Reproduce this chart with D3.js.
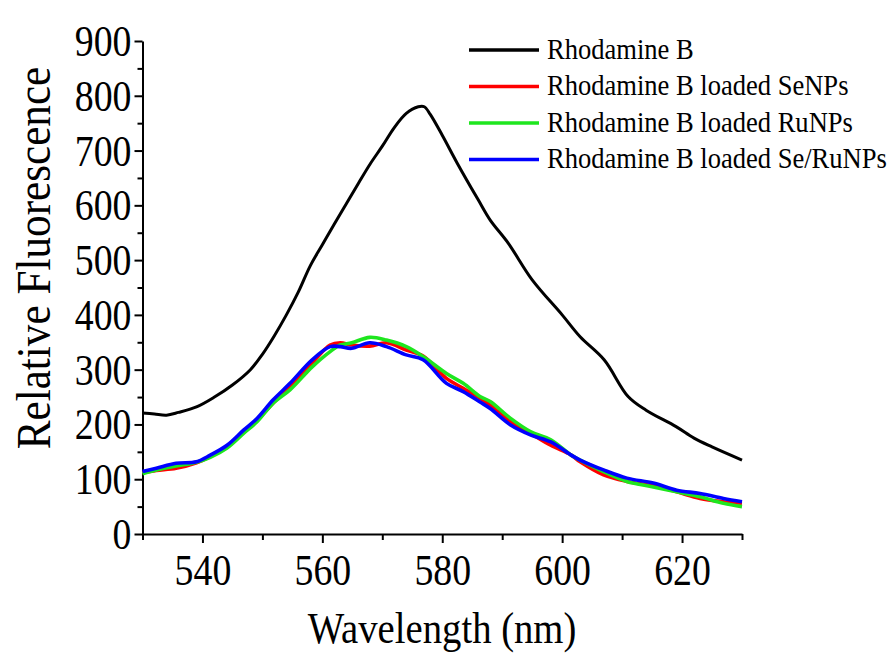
<!DOCTYPE html>
<html>
<head>
<meta charset="utf-8">
<script src="https://cdn.jsdelivr.net/npm/d3@7"></script>
<style>
  body { margin: 0; background: #fff; }
</style>
</head>
<body>
<div id="chart"></div>
<script>
// Rhodamine B (black)
var wlBlack = [530, 532, 534, 536, 539, 542, 545, 548, 550, 552, 554, 556, 558, 560, 562, 564, 566, 568, 570, 572, 574, 576, 577, 578, 580, 582.5, 586, 588, 591, 595, 600, 603, 607, 611, 614, 619, 622, 625, 630];
var rhodB = [221, 219, 217, 222, 232, 250, 272, 300, 328, 362, 400, 442, 490, 528, 566, 603, 640, 676, 708, 742, 768, 780, 780, 766, 728, 677, 610, 573, 531, 464, 400, 360, 318, 251, 226, 196, 175, 159, 135];

// nanoparticle series share one wavelength grid
var wlNP = [530, 532.3, 535.6, 539, 541.3, 544.1, 546.9, 549.1, 551.8, 554.6, 558.3, 561.3, 563, 564.9, 567.9, 570.7, 574, 576.8, 580.7, 583.5, 586.3, 588, 591.4, 594.7, 598.1, 601.5, 603, 606.9, 610.8, 615.2, 619.1, 623, 626.9, 630];
var seNP = [112, 116, 120, 130, 142, 160, 186, 208, 239, 270, 312, 345, 349, 345, 343, 349, 336, 325, 284, 266, 248, 235, 205, 184, 162, 144, 132, 108, 96, 88, 77, 65, 59, 56];
var ruNP = [110, 117, 124, 131, 140, 157, 184, 205, 239, 263, 305, 333, 345, 349, 359, 354, 342, 324, 293, 275, 251, 242, 211, 187, 172, 144, 135, 114, 96, 86, 77, 68, 56, 50];
var seRuNP = [114, 120, 129, 132, 144, 162, 190, 211, 245, 275, 318, 342, 342, 339, 349, 342, 327, 318, 275, 260, 241, 229, 199, 181, 168, 144, 135, 117, 102, 93, 80, 74, 65, 59];

var seriesNames = ["Rhodamine B", "Rhodamine B loaded SeNPs", "Rhodamine B loaded RuNPs", "Rhodamine B loaded Se/RuNPs"];
var seriesColors = ["#000000", "#ff0000", "#1ee61e", "#0000ff"];

var xMajor = [540, 560, 580, 600, 620];
var xMinor = [530, 550, 570, 590, 610, 630];
var yMajor = [0, 100, 200, 300, 400, 500, 600, 700, 800, 900];
var yMinor = [50, 150, 250, 350, 450, 550, 650, 750, 850];

var series = [
  {name: seriesNames[0], color: seriesColors[0], x: wlBlack, y: rhodB, w: 3},
  {name: seriesNames[1], color: seriesColors[1], x: wlNP, y: seNP, w: 3.6},
  {name: seriesNames[2], color: seriesColors[2], x: wlNP, y: ruNP, w: 3.6},
  {name: seriesNames[3], color: seriesColors[3], x: wlNP, y: seRuNP, w: 3.6}
];

var width = 893, height = 661;
var margin = {top: 41, right: 151, bottom: 127, left: 142.5};
var serif = "'Liberation Serif'";
var sx = 0.86; // horizontal squeeze, original font is narrower

var svg = d3.select("#chart").append("svg")
    .attr("width", width)
    .attr("height", height)
    .attr("font-family", serif);

var xScale = d3.scaleLinear().domain([530, 630]).range([margin.left, width - margin.right]);
var yScale = d3.scaleLinear().domain([0, 900]).range([height - margin.bottom, margin.top]);

// minor ticks first
svg.append("g")
    .attr("transform", "translate(0," + yScale(0) + ")")
    .call(d3.axisBottom(xScale).tickValues(xMinor).tickSize(6).tickFormat(""))
    .call(g => g.select(".domain").remove());
svg.append("g")
    .attr("transform", "translate(" + xScale(530) + ",0)")
    .call(d3.axisLeft(yScale).tickValues(yMinor).tickSize(5).tickFormat(""))
    .call(g => g.select(".domain").remove());

// x axis
var xAxis = svg.append("g")
    .attr("transform", "translate(0," + yScale(0) + ")")
    .call(d3.axisBottom(xScale).tickValues(xMajor).tickSize(9).tickSizeOuter(0).tickPadding(11).tickFormat(d3.format("d")))
    .attr("font-family", serif)
    .attr("font-size", 44);
xAxis.selectAll("text")
    .attr("dy", "0.71em")
    .attr("transform", "scale(" + sx + ",1)");

// y axis
var yAxis = svg.append("g")
    .attr("transform", "translate(" + xScale(530) + ",0)")
    .call(d3.axisLeft(yScale).tickValues(yMajor).tickSize(8).tickSizeOuter(0).tickPadding(3).tickFormat(d3.format("d")))
    .attr("font-family", serif)
    .attr("font-size", 44);
yAxis.selectAll("text")
    .attr("dy", "0.33em")
    .attr("x", -11 / sx)
    .attr("transform", "scale(" + sx + ",1)");

svg.selectAll(".domain").attr("stroke-width", 2);
svg.selectAll(".tick line").attr("stroke-width", 2);

// curves
var line = d3.line()
    .x(d => xScale(d[0]))
    .y(d => yScale(d[1]))
    .curve(d3.curveCatmullRom.alpha(0.5));

svg.append("g").selectAll("path")
    .data(series)
  .enter().append("path")
    .attr("fill", "none")
    .attr("stroke", d => d.color)
    .attr("stroke-width", d => d.w)
    .attr("stroke-linejoin", "round")
    .attr("d", d => line(d.x.map((v, i) => [v, d.y[i]])));

// axis titles
svg.append("text")
    .attr("transform", "translate(442,643) scale(" + sx + ",1)")
    .attr("text-anchor", "middle")
    .attr("font-family", serif)
    .attr("font-size", 45)
    .text("Wavelength (nm)");

svg.append("text")
    .attr("transform", "translate(50,258) rotate(-90) scale(0.9,1)")
    .attr("text-anchor", "middle")
    .attr("font-family", serif)
    .attr("font-size", 48)
    .text("Relative Fluorescence");

// legend
var legend = svg.selectAll(".legend")
    .data(series)
  .enter().append("g")
    .attr("class", "legend")
    .attr("transform", (d, i) => "translate(469," + (50 + i * 36.5) + ")");

legend.append("line")
    .attr("x1", 0).attr("x2", 70)
    .attr("stroke", d => d.color)
    .attr("stroke-width", 3.5);

legend.append("text")
    .attr("transform", "translate(78,8.5) scale(0.885,1)")
    .attr("font-family", serif)
    .attr("font-size", 30)
    .text(d => d.name);
</script>
</body>
</html>
